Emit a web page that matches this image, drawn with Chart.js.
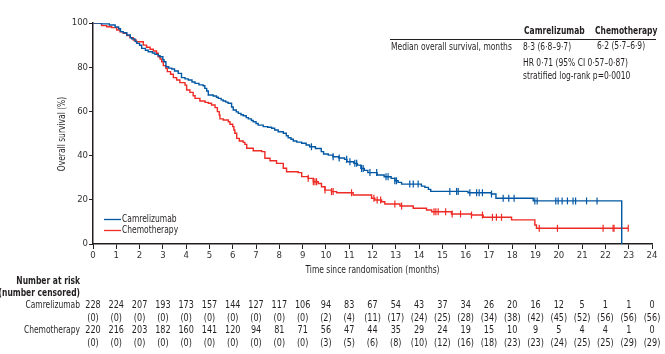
<!DOCTYPE html>
<html>
<head>
<meta charset="utf-8">
<script src="https://cdn.jsdelivr.net/npm/chart.js@4"></script>
<style>
  body { margin: 0; background: #fff; }
  #wrap { width: 665px; height: 354px; }
</style>
</head>
<body>
<div id="wrap"><canvas id="km" width="665" height="354"></canvas></div>
<script>
const FONT = "'Liberation Sans Narrow', 'DejaVu Sans Condensed', 'Liberation Sans', sans-serif";
const BLUE = "#0057a4";
const RED = "#ee2a24";
const INK = "#231f20";

const months = [0,1,2,3,4,5,6,7,8,9,10,11,12,13,14,15,16,17,18,19,20,21,22,23,24];

// Kaplan-Meier steps (months, % surviving)
const camTime = [0,0.35,0.7,0.95,1.1,1.18,1.3,1.45,1.6,1.66,1.8,1.88,2.0,2.09,2.25,2.37,2.55,2.66,2.8,2.88,
  3.0,3.05,3.13,3.25,3.38,3.5,3.66,3.8,3.95,4.09,4.25,4.38,4.55,4.73,4.8,4.88,4.95,5.16,5.3,5.38,5.5,5.59,
  5.7,5.8,5.95,6.02,6.15,6.24,6.35,6.45,6.58,6.67,6.8,6.88,7.0,7.09,7.31,7.5,7.67,7.8,7.95,8.17,8.3,8.38,
  8.5,8.6,8.75,8.96,9.15,9.3,9.55,9.8,9.9,10.1,10.3,10.55,10.8,10.9,11.2,11.35,11.5,11.65,11.8,12.2,12.5,
  12.8,12.96,13.1,13.25,14.1,14.25,14.4,14.5,16.1,17.1,17.3,18.9,22.7];
const camSurv = [100,99.6,99.1,98.2,97.4,96.1,95.6,94.6,93.4,92.8,91.7,90.8,89.9,88.5,87.7,87.0,86.4,85.8,85.2,84.7,
  83.4,82.5,80.2,79.6,79.2,78.3,77.2,75.3,74.7,74.2,73.3,72.7,72.0,71.6,70.4,69.2,67.4,67.0,66.4,65.9,65.2,64.7,
  64.2,63.7,62.0,60.6,59.8,59.1,58.5,58.0,57.2,56.6,55.9,55.3,54.5,53.8,53.1,52.8,52.4,51.6,50.8,50.1,49.0,48.1,
  47.4,46.6,46.1,45.6,44.8,44.0,43.2,41.8,40.7,40.2,39.5,38.9,38.3,37.2,36.5,35.7,34.2,33.3,32.3,31.2,30.4,
  29.7,28.6,27.9,27.1,26.2,25.6,24.7,23.8,23.2,22.6,20.7,19.5,0];

const chemoTime = [0,0.37,0.59,0.8,1.02,1.16,1.3,1.45,1.59,1.73,1.85,2.16,2.3,2.45,2.59,2.73,2.8,2.88,2.95,3.02,
  3.13,3.19,3.33,3.45,3.59,3.73,3.95,4.02,4.16,4.3,4.38,4.59,4.81,4.95,5.09,5.24,5.34,5.42,5.45,5.59,5.81,
  5.88,6.0,6.05,6.09,6.17,6.28,6.45,6.52,6.6,6.88,7.24,7.38,7.6,7.88,8.17,8.31,8.81,8.96,9.24,9.46,9.67,9.81,
  9.96,10.24,10.46,11.17,11.96,12.1,12.39,12.53,13.18,13.75,14.32,14.54,15.39,16.25,16.75,17.97,18.97,19.04,22.98];
const chemoSurv = [100,98.8,98.3,97.9,96.8,96.0,95.3,94.3,93.3,92.3,91.5,90.0,89.0,88.1,87.3,86.3,84.7,83.7,82.5,80.7,
  79.5,78.0,76.8,75.3,74.2,73.0,71.9,69.7,68.6,67.1,65.9,64.7,64.1,63.7,62.9,61.7,59.9,58.4,56.6,56.1,55.3,
  54.2,53.1,51.6,50.1,47.8,46.6,46.0,45.1,43.3,42.2,41.8,38.8,37.7,36.5,34.3,32.7,32.3,30.5,29.7,28.2,27.4,25.9,
  24.4,23.7,23.2,22.2,20.7,19.9,19.1,18.1,17.2,16.2,15.4,14.6,13.6,13.1,12.1,10.9,8.6,7.1,7.1];

// censoring times (months)
const camCensorTimes = [9.38,10.31,10.57,10.89,11.03,11.24,11.32,11.53,11.6,11.89,12.18,12.58,12.67,12.96,13.03,
  13.6,13.75,13.96,15.32,15.61,15.68,16.18,16.47,16.58,16.72,17.11,17.61,17.85,18.08,18.97,19.07,19.87,19.97,
  20.14,20.37,20.61,20.72,21.19,21.64];
const chemoCensorTimes = [9.24,9.46,9.53,9.6,9.96,10.24,10.31,11.1,12.06,12.2,12.35,12.96,13.25,14.64,14.72,14.82,
  15.14,15.42,15.78,16.25,16.72,17.15,17.32,17.54,19.16,19.94,21.9,22.33,22.37,22.98];

const camRisk = [228,224,207,193,173,157,144,127,117,106,94,83,67,54,43,37,34,26,20,16,12,5,1,1,0];
const camCens = [0,0,0,0,0,0,0,0,0,0,2,4,11,17,24,25,28,34,38,42,45,52,56,56,56];
const chemoRisk = [220,216,203,182,160,141,120,94,81,71,56,47,44,35,29,24,19,15,10,9,5,4,4,1,0];
const chemoCens = [0,0,0,0,0,0,0,0,0,0,3,5,6,8,10,12,16,18,23,23,24,25,25,29,29];

function survAt(times, surv, t) {
  let s = surv[0];
  for (let i = 0; i < times.length; i++) {
    if (times[i] <= t) s = surv[i];
  }
  return s;
}

const pts = (tt, ss) => tt.map((t, i) => ({ x: t, y: ss[i] }));
const cens = (ct, tt, ss) => ct.map(t => ({ x: t, y: survAt(tt, ss, t) }));

// the original uses a condensed face, squeeze the text a bit
function txt(ctx, s, x, y, squeeze) {
  const w = ctx.measureText(s).width * (squeeze || 0.84);
  ctx.fillText(s, x, y, w);
}

const extras = {
  id: "extras",
  afterDraw(chart) {
    const ctx = chart.ctx;
    const xs = chart.scales.x;
    const area = chart.chartArea;
    ctx.save();
    ctx.fillStyle = INK;
    ctx.textBaseline = "middle";

    // axis titles
    ctx.font = "10px " + FONT;
    ctx.textAlign = "center";
    txt(ctx, "Time since randomisation (months)", (area.left + area.right) / 2, 270);
    ctx.save();
    ctx.translate(62, 134);
    ctx.rotate(-Math.PI / 2);
    txt(ctx, "Overall survival (%)", 0, 0);
    ctx.restore();

    // summary box, top right
    ctx.strokeStyle = INK;
    ctx.lineWidth = 1;
    ctx.beginPath();
    ctx.moveTo(390, 39.5);
    ctx.lineTo(656, 39.5);
    ctx.stroke();
    ctx.textAlign = "left";
    ctx.font = "bold 10px " + FONT;
    txt(ctx, "Camrelizumab", 524, 31);
    txt(ctx, "Chemotherapy", 595, 31);
    ctx.font = "10px " + FONT;
    txt(ctx, "Median overall survival, months", 391, 47);
    txt(ctx, "8·3 (6·8–9·7)", 523, 47);
    txt(ctx, "6·2 (5·7–6·9)", 597, 46);
    txt(ctx, "HR 0·71 (95% CI 0·57–0·87)", 523, 63);
    txt(ctx, "stratified log-rank p=0·0010", 523, 76);

    // legend
    [[BLUE, "Camrelizumab", 219], [RED, "Chemotherapy", 230]].forEach(([c, label, y]) => {
      ctx.strokeStyle = c;
      ctx.lineWidth = 1.3;
      ctx.beginPath();
      ctx.moveTo(104, y + 0.5);
      ctx.lineTo(121, y + 0.5);
      ctx.stroke();
      txt(ctx, label, 122, y);
    });

    // number at risk table
    ctx.textAlign = "right";
    ctx.font = "bold 10px " + FONT;
    txt(ctx, "Number at risk", 80, 281);
    txt(ctx, "(number censored)", 80, 293);
    ctx.font = "10px " + FONT;
    txt(ctx, "Camrelizumab", 80, 305);
    txt(ctx, "Chemotherapy", 80, 330);
    ctx.textAlign = "center";
    months.forEach((m, i) => {
      const x = xs.getPixelForValue(m);
      txt(ctx, String(camRisk[i]), x, 305, 0.9);
      txt(ctx, "(" + camCens[i] + ")", x, 318, 0.9);
      txt(ctx, String(chemoRisk[i]), x, 330, 0.9);
      txt(ctx, "(" + chemoCens[i] + ")", x, 343, 0.9);
    });
    ctx.restore();
  }
};

const censorStyle = {
  showLine: false,
  pointStyle: "line",
  rotation: 90,
  pointRadius: 3.5,
  pointHoverRadius: 3.5,
  pointBorderWidth: 1.2
};

new Chart(document.getElementById("km"), {
  type: "scatter",
  data: {
    datasets: [
      { label: "Camrelizumab", data: pts(camTime, camSurv), showLine: true, stepped: true,
        borderColor: BLUE, borderWidth: 1.4, pointRadius: 0, fill: false },
      { label: "Chemotherapy", data: pts(chemoTime, chemoSurv), showLine: true, stepped: true,
        borderColor: RED, borderWidth: 1.4, pointRadius: 0, fill: false },
      Object.assign({ label: "cam censored", data: cens(camCensorTimes, camTime, camSurv),
        borderColor: BLUE, backgroundColor: BLUE }, censorStyle),
      Object.assign({ label: "chemo censored", data: cens(chemoCensorTimes, chemoTime, chemoSurv),
        borderColor: RED, backgroundColor: RED }, censorStyle)
    ]
  },
  options: {
    responsive: false,
    animation: false,
    events: [],
    layout: { padding: { left: 55, top: 23, right: 13, bottom: 78 } },
    plugins: { legend: { display: false }, tooltip: { enabled: false } },
    scales: {
      x: {
        type: "linear", min: 0, max: 24,
        afterFit: s => { s.height = 32; },
        ticks: { stepSize: 1, color: "#333", font: { family: FONT, size: 9.5 }, padding: 1, maxRotation: 0 },
        grid: { display: true, drawOnChartArea: false, tickLength: 5, color: INK, lineWidth: 1 },
        border: { color: INK, width: 1.5 }
      },
      y: {
        min: 0, max: 100,
        afterFit: s => { s.width = 38; },
        ticks: { stepSize: 20, color: "#333", font: { family: FONT, size: 9.5 }, padding: 1 },
        grid: { display: true, drawOnChartArea: false, tickLength: 4, color: INK, lineWidth: 1 },
        border: { color: INK, width: 1.5 }
      }
    }
  },
  plugins: [extras]
});
</script>
</body>
</html>
